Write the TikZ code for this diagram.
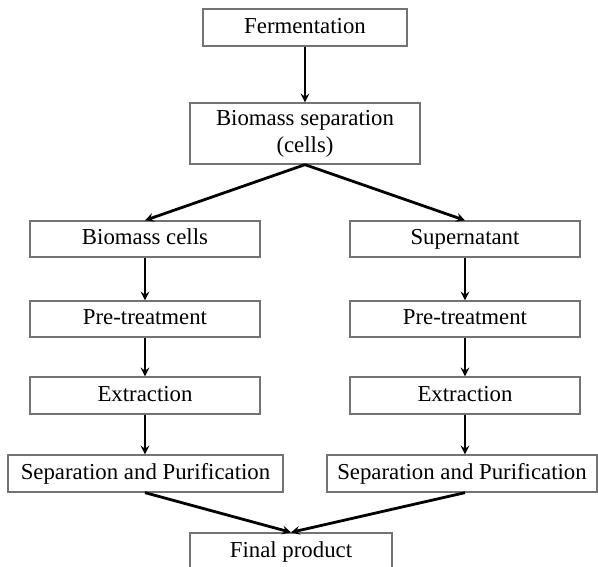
\documentclass[tikz,border=0pt]{standalone}
\usepackage{fontspec}
\setmainfont{Liberation Serif}
\usepackage{tikz}
\usetikzlibrary{shapes, arrows, calc, positioning}

\begin{document}
\begin{tikzpicture}[>=stealth, x=1pt, y=-1pt]
    \tikzstyle{format} = [draw=black!55, line width=1.3pt, rectangle,
	inner sep=0pt, align=center, font=\fontsize{22.8}{27}\selectfont]
    \tikzstyle{single} = [format, text height=17pt, text depth=5pt]
    \tikzstyle{flow} = [->, line width=2.8pt, black]

	\useasboundingbox (0,0) rectangle (598,567);

		\path
			node[single, minimum width=204pt, minimum height=37pt] (1) at (305,27.5) {Fermentation}
			node[format, minimum width=230pt, minimum height=61pt] (2) at (305,133.5) {Biomass separation\\(cells)}
			node[single, minimum width=230pt, minimum height=36pt] (3) at (145,239) {Biomass cells}
			node[single, minimum width=230pt, minimum height=36pt] (4) at (465,239) {Supernatant}
			node[single, minimum width=230pt, minimum height=36pt] (5) at (145,319) {Pre-treatment}
			node[single, minimum width=230pt, minimum height=36pt] (6) at (465,319) {Pre-treatment}
			node[single, minimum width=230pt, minimum height=37pt] (7) at (145,395.5) {Extraction}
			node[single, minimum width=230pt, minimum height=37pt] (8) at (465,395.5) {Extraction}
			node[single, minimum width=275pt, minimum height=37pt] (9) at (145.5,473.5) {Separation and Purification}
			node[single, minimum width=270pt, minimum height=37pt] (10) at (462,473.5) {Separation and Purification}
			node[single, minimum width=202pt, minimum height=37pt] (11) at (291,551.5) {Final product}
		;

		\draw[flow] (1) -- (2);
		\draw[flow] (2.south) -- (3.north);
		\draw[flow] (2.south) -- (4.north);
		\draw[flow] (3) -- (5);
		\draw[flow] (4) -- (6);
		\draw[flow] (5) -- (7);
		\draw[flow] (6) -- (8);
		\draw[flow] (7.south) -- (7.south |- 9.north);
		\draw[flow] (8.south) -- (8.south |- 10.north);
		\draw[flow] (7.south |- 9.south) -- (11.north);
		\draw[flow] (8.south |- 10.south) -- (11.north);

\end{tikzpicture}
\end{document}
